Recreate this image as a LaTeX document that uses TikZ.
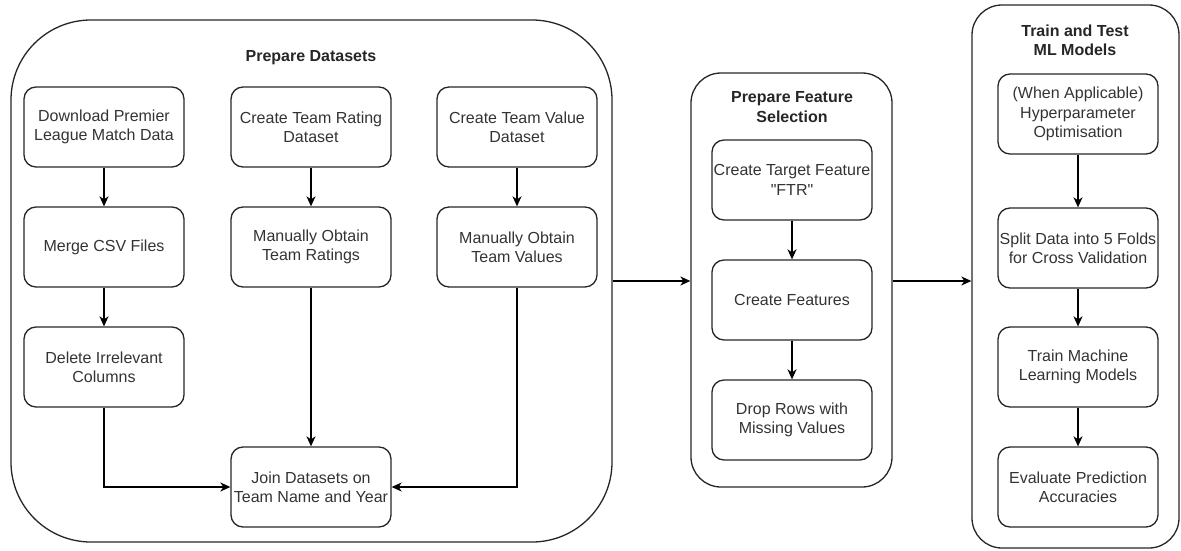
\documentclass[tikz,border=0pt]{standalone}
\usepackage{fontspec}
\setmainfont{Liberation Sans}
\usetikzlibrary{arrows.meta,calc}

% straight double quote, bypassing the TeX quote mapping
\newcommand\straightdq{\XeTeXglyph\XeTeXcharglyph34\relax}

\tikzset{
  every picture/.style={x=1pt,y=-1pt},
  lane/.style={draw=black!85,line width=1.3pt,rounded corners=30pt,inner sep=0pt},
  stepbox/.style={draw=black!85,line width=1.3pt,rounded corners=12pt,
    minimum width=160pt,minimum height=80pt,inner sep=0pt,align=center,
    text=black!80,font=\fontsize{16}{19.2}\selectfont},
  lanetitle/.style={align=center,font=\bfseries\fontsize{16}{19.2}\selectfont,text=black!85},
  flow/.style={draw=black,line width=1.3pt,-{Stealth[length=10pt,width=9pt,inset=3pt]}}
}

\begin{document}
\begin{tikzpicture}
\useasboundingbox (0,0) rectangle (1181,551);

% --- lanes ---
\node[lane,rounded corners=80pt,minimum width=601pt,minimum height=522pt] (prep) at (311.5,281) {};
\node[lane,minimum width=201pt,minimum height=414pt] (feat) at (791.5,280) {};
\node[lane,minimum width=207pt,minimum height=543pt] (ml) at (1075.5,276.5) {};

% --- lane titles ---
\node[lanetitle] (tprep) at (311,58) {Prepare Datasets};
\node[lanetitle] (tfeat) at (792,107) {Prepare Feature\\Selection};
\node[lanetitle] (tml) at (1075,40) {Train and Test\\ML Models};

% --- preparing datasets ---
\node[stepbox] (dl)    at (104,127) {Download Premier\\League Match Data};
\node[stepbox] (merge) at (104,247) {Merge CSV Files};
\node[stepbox] (del)   at (104,367) {Delete Irrelevant\\Columns};
\node[stepbox] (rate)  at (311,127) {Create Team Rating\\Dataset};
\node[stepbox] (mrate) at (311,247) {Manually Obtain\\Team Ratings};
\node[stepbox] (val)   at (517,127) {Create Team Value\\Dataset};
\node[stepbox] (mval)  at (517,247) {Manually Obtain\\Team Values};
\node[stepbox] (join)  at (311,487) {Join Datasets on\\Team Name and Year};

% --- feature selection ---
\node[stepbox] (ftr)   at (792,180) {Create Target Feature\\\straightdq FTR\straightdq};
\node[stepbox] (cfeat) at (792,300) {Create Features};
\node[stepbox] (drop)  at (792,420) {Drop Rows with\\Missing Values};

% --- models ---
\node[stepbox] (hyp)   at (1078,114) {(When Applicable)\\Hyperparameter\\Optimisation};
\node[stepbox] (split) at (1078,248) {Split Data into 5 Folds\\for Cross Validation};
\node[stepbox] (train) at (1078,367) {Train Machine\\Learning Models};
\node[stepbox] (eval)  at (1078,487) {Evaluate Prediction\\Accuracies};

% --- connectors ---
\draw[flow] (dl) -- (merge);
\draw[flow] (merge) -- (del);
\draw[flow] (rate) -- (mrate);
\draw[flow] (mrate) -- (join);
\draw[flow] (val) -- (mval);
\draw[flow] (del.south) |- (join.west);
\draw[flow] (mval.south) |- (join.east);

\draw[flow] (ftr) -- (cfeat);
\draw[flow] (cfeat) -- (drop);

\draw[flow] (hyp) -- (split);
\draw[flow] (split) -- (train);
\draw[flow] (train) -- (eval);

\draw[flow] (prep.east) -- (prep.east -| feat.west);
\draw[flow] (prep.east -| feat.east) -- (prep.east -| ml.west);
\end{tikzpicture}
\end{document}
